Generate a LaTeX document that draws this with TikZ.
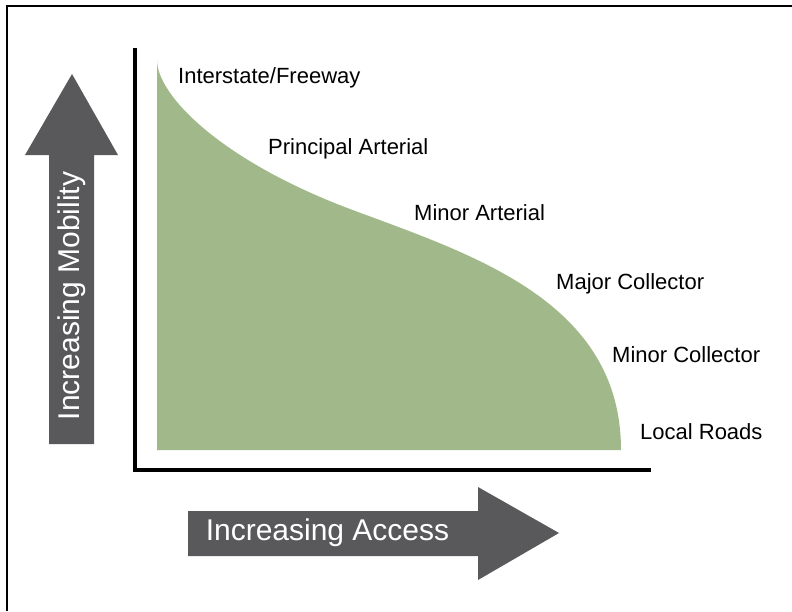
\documentclass[tikz,border=0pt]{standalone}
\usepackage{fontspec}
\setmainfont{Liberation Sans}
\definecolor{areagreen}{HTML}{A1B98A}
\definecolor{arrowgrey}{HTML}{59595B}
\tikzset{
  lbl/.style={anchor=base west, inner sep=0pt, font=\fontsize{22}{26}\selectfont, text=black},
  bigtxt/.style={inner sep=0pt, font=\fontsize{30}{34}\selectfont, text=white},
  axisline/.style={line width=3.6pt, black},
  frameline/.style={line width=2.7pt, black}
}
\begin{document}
\begin{tikzpicture}[x=1pt,y=-1pt]
\useasboundingbox (0,0) rectangle (792,611);
% frame (only top and left visible)
\draw[frameline] (7,611) -- (7,6) -- (792,6);
% green area
\fill[areagreen] (157,60) .. controls (157,95) and (220,160) .. (350,209)
  .. controls (470,254) and (621,300) .. (621,450)
  -- (157,450) -- cycle;
% axes
\draw[axisline] (135,48) -- (135,470) -- (651,470);
% up arrow
\fill[arrowgrey] (49,444) -- (49,155) -- (25,155) -- (72,74) -- (118,155) -- (94,155) -- (94,444) -- cycle;
\node[bigtxt, rotate=90] (mob) at (71.5,296) {Increasing Mobility};
% right arrow
\fill[arrowgrey] (188,511) -- (478,511) -- (478,487) -- (559,533) -- (478,580) -- (478,556) -- (188,556) -- cycle;
\node[bigtxt] (acc) at (327.5,533) {Increasing Access};
% labels
\node[lbl] (l1) at (178,83) {Interstate/Freeway};
\node[lbl] (l2) at (268,154) {Principal Arterial};
\node[lbl] (l3) at (414,220) {Minor Arterial};
\node[lbl] (l4) at (556,289) {Major Collector};
\node[lbl] (l5) at (612,362) {Minor Collector};
\node[lbl] (l6) at (640,439) {Local Roads};
\end{tikzpicture}
\end{document}
